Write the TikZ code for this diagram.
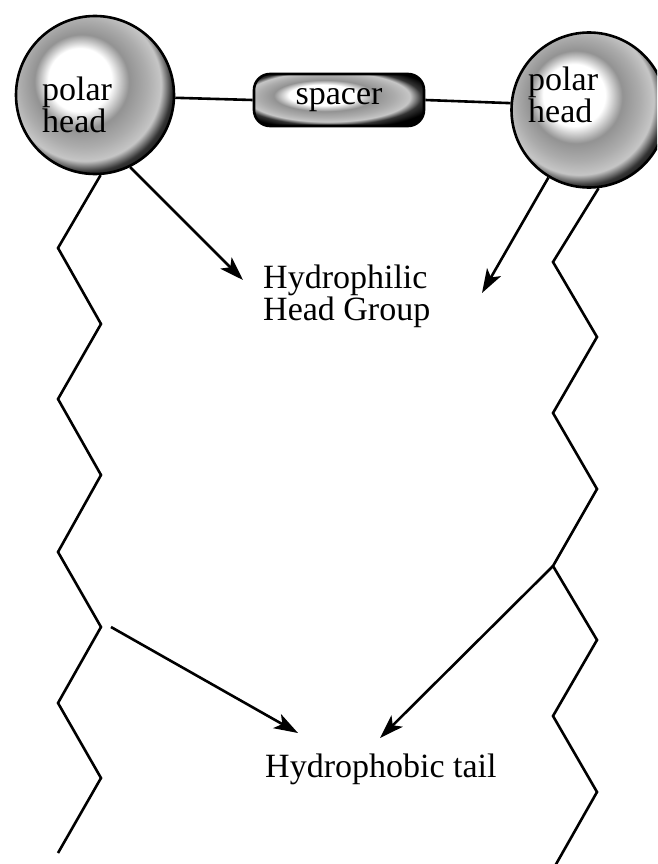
\documentclass[tikz,border=0pt]{standalone}
\usepackage{fontspec}
\setmainfont{Liberation Serif}
\usetikzlibrary{arrows.meta}

% light sphere look: white highlight at upper left, dark rim
\pgfdeclareradialshading{headshade}{\pgfpoint{-6bp}{6bp}}{%
  color(0bp)=(white); color(10bp)=(white); color(15bp)=(gray!85);
  color(20bp)=(gray!65); color(24bp)=(gray!45); color(27bp)=(gray!40!black);
  color(31bp)=(black); color(50bp)=(black)}

\tikzset{
  headball/.style={circle, draw, line width=2.6pt, shading=headshade, inner sep=0pt},
  spacerbox/.style={draw, line width=2.6pt, rounded corners=16pt, shading=headshade,
    minimum width=170pt, minimum height=52pt, inner sep=0pt},
  lbl/.style={font=\fontsize{34}{32}\selectfont, inner sep=0pt, align=left},
  tail/.style={line width=2.6pt, line join=miter},
  pointer/.style={line width=2.6pt, -{Stealth[length=24pt,width=16pt,inset=6pt]}}
}

\begin{document}
\begin{tikzpicture}[x=1pt, y=-1pt]
    \useasboundingbox (0,0) rectangle (657,864);
    \clip (0,0) rectangle (657,864);

    % the two heads and the spacer between them
    \node[headball, minimum size=158pt] (lball) at (95,95) {};
    \node[headball, minimum size=155pt] (rball) at (589,110) {};
    \node[spacerbox, font=\fontsize{34}{32}\selectfont] (spacer) at (339,100) {spacer};

    \node[lbl, anchor=north west] (ltext) at (42,77) {polar\\head};
    \node[lbl, anchor=north west, font=\fontsize{34}{26}\selectfont] (rtext) at (528,67) {polar\\head};

    \draw[tail] (lball.-2) -- (spacer.west);
    \draw[tail] (spacer.east) -- (rball.175);

    % hydrocarbon tails
    \draw[tail] (lball.-86) -- (58,248) -- (101,324) -- (58,399) -- (101,475) -- (58,552)
        -- (101,627) coordinate (lkink) -- (58,703) -- (101,778) -- (58,853);
    \draw[tail] (rball.-83) -- (553,262) -- (597,337) -- (553,413) -- (597,489)
        -- (553,566) coordinate (rkink) -- (597,640) -- (553,716) -- (597,792) -- (555,866);

    % labels
    \node[lbl, anchor=north west] (philic) at (263,265) {Hydrophilic\\Head Group};
    \node[lbl, anchor=base west] (phobic) at (265,777) {Hydrophobic tail};

    \coordinate (philL) at (243,280);
    \coordinate (philR) at (482,293);
    \coordinate (phobL) at (298,733);
    \coordinate (phobR) at (380,738);

    \draw[pointer] (lball.-64) -- (philL);
    \draw[pointer] (rball.-121) -- (philR);
    \draw[pointer] ([xshift=10pt]lkink) -- (phobL);
    \draw[pointer] (rkink) -- (phobR);
\end{tikzpicture}
\end{document}
